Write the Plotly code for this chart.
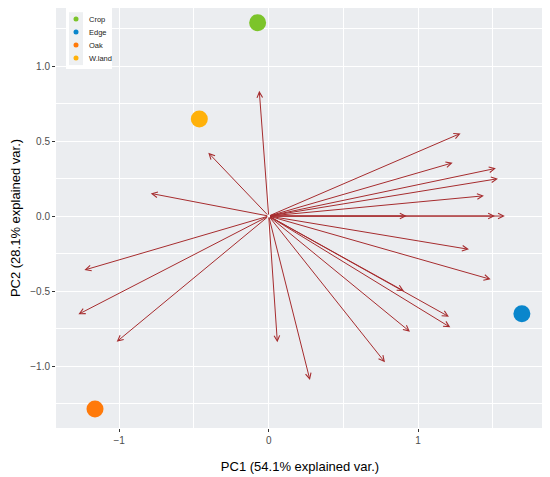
import plotly.graph_objects as go

# sample scores (PC1, PC2)
groups = ["Crop", "Edge", "Oak", "W.land"]
group_colors = ["#7CC42A", "#0A86CC", "#FF7A0A", "#FFB10A"]
pc1_scores = [-0.074, 1.694, -1.162, -0.464]
pc2_scores = [1.289, -0.651, -1.287, 0.647]

# variable loadings (arrow tips)
pc1_load = [-0.063, -0.404, -0.789, -1.233, -1.273, -1.017, 0.058, 0.276,
            0.778, 0.945, 0.905, 1.206, 1.215, 1.340, 1.485, 0.923, 1.514,
            1.580, 1.284, 1.231, 1.520, 1.534, 1.440]
pc2_load = [0.835, 0.422, 0.151, -0.360, -0.655, -0.838, -0.842, -1.093,
            -0.975, -0.771, -0.500, -0.671, -0.742, -0.222, -0.422, 0.0, 0.0,
            0.0, 0.551, 0.355, 0.318, 0.249, 0.135]

arrow_col = "#A62C2E"
font_fam = "Liberation Sans, Arial, sans-serif"

fig = go.Figure()

# points
for g, c, x, y in zip(groups, group_colors, pc1_scores, pc2_scores):
    fig.add_trace(go.Scatter(x=[x], y=[y], mode="markers", name=g,
                             marker=dict(color=c, size=17),
                             showlegend=False))

# loading arrows
for x, y in zip(pc1_load, pc2_load):
    fig.add_annotation(x=x, y=y, ax=0, ay=0, xref="x", yref="y",
                       axref="x", ayref="y", text="", showarrow=True,
                       arrowhead=5, arrowsize=1.1, arrowwidth=1,
                       arrowcolor=arrow_col)

# hand-made legend (ggplot style: white box, grey key column, small dots)
fig.add_shape(type="rect", xref="paper", yref="paper",
              x0=0.0205, x1=0.1148, y0=0.855, y1=1.0,
              fillcolor="white", line=dict(width=0), layer="above")
fig.add_shape(type="rect", xref="paper", yref="paper",
              x0=0.0266, x1=0.0553, y0=0.864, y1=0.99,
              fillcolor="#EEF0F2", line=dict(width=0), layer="above")
key_top = 0.9738
key_step = 0.031
for i, (g, c) in enumerate(zip(groups, group_colors)):
    ky = key_top - i * key_step
    fig.add_shape(type="circle", xref="paper", yref="paper",
                  xsizemode="pixel", ysizemode="pixel",
                  xanchor=0.041, yanchor=ky, x0=-2.5, x1=2.5, y0=-2.5, y1=2.5,
                  fillcolor=c, line=dict(width=0), layer="above")
    fig.add_annotation(x=0.0629, y=ky, xref="paper", yref="paper",
                       text=g, showarrow=False, xanchor="left",
                       yanchor="middle", font=dict(size=7.5, color="#222"))

fig.update_layout(
    width=542, height=469,
    margin=dict(l=48, r=6, t=0, b=49),
    plot_bgcolor="#EBEDF0",
    paper_bgcolor="white",
    font=dict(family=font_fam, color="black"),
    showlegend=False,
)
fig.update_xaxes(
    range=[-1.423, 1.842], dtick=1, tick0=0,
    showgrid=True, gridcolor="white", gridwidth=1.1, zeroline=False,
    minor=dict(dtick=0.5, showgrid=True, gridcolor="white", gridwidth=0.5),
    ticks="outside", ticklen=3, tickcolor="#333", tickwidth=1,
    tickfont=dict(size=10, color="#4D4D4D"),
    title=dict(text="PC1 (54.1% explained var.)", font=dict(size=13), standoff=16),
    showline=False,
)
fig.update_yaxes(
    range=[-1.413, 1.387], dtick=0.5, tick0=0, tickformat=".1f",
    showgrid=True, gridcolor="white", gridwidth=1.1, zeroline=False,
    minor=dict(dtick=0.25, showgrid=True, gridcolor="white", gridwidth=0.5),
    ticks="outside", ticklen=3, tickcolor="#333", tickwidth=1,
    tickfont=dict(size=10, color="#4D4D4D"),
    title=dict(text="PC2 (28.1% explained var.)", font=dict(size=13), standoff=6),
    showline=False,
)

fig.write_html("out.html")
